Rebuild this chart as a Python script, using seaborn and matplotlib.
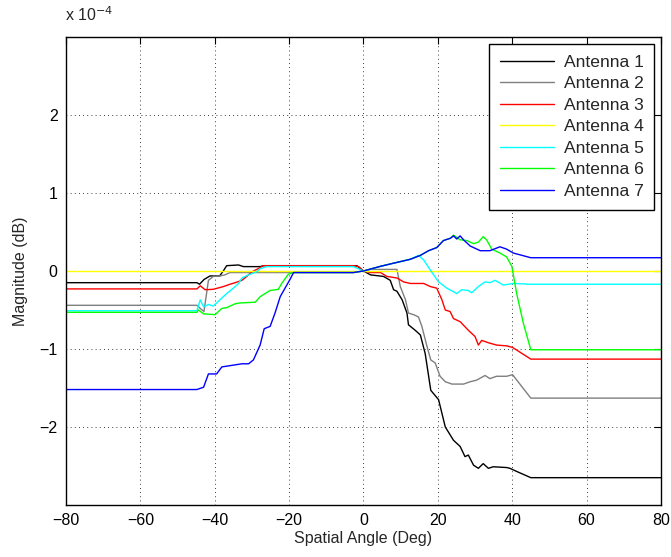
import matplotlib
matplotlib.use("Agg")
import matplotlib.pyplot as plt
import numpy as np
import pandas as pd
import seaborn as sns

# Magnitude response of each antenna versus spatial angle (values in units of 1e-4 dB)
ant1_angle = [-80, -44.8, -44.1, -42.9, -41.3, -38.7, -37.7, -36.8, -33.6, -32.3, -27.8, -26.9, -1.8, 0,
              1.9, 5.4, 7.2, 8.1, 9, 10.4, 11.7, 12.1, 13.9, 15.3, 16.6, 18.1, 20.2, 22, 24.2, 26, 27.3,
              28.2, 29.6, 30.9, 32.2, 33.6, 34.9, 38.5, 39.4, 41.2, 45, 80]
ant1_mag = [-0.15, -0.15, -0.17, -0.11, -0.064, -0.064, 0.0, 0.068, 0.077, 0.056, 0.056, 0.068, 0.068, 0.0,
            -0.05, -0.07, -0.12, -0.24, -0.26, -0.37, -0.54, -0.69, -0.76, -0.82, -1.06, -1.53, -1.65, -2.0,
            -2.17, -2.25, -2.38, -2.36, -2.49, -2.53, -2.47, -2.53, -2.51, -2.52, -2.53, -2.57, -2.65, -2.65]

ant2_angle = [-80, -44.8, -43.9, -42.9, -41.7, -40.4, -38.6, -37.3, -35.9, -2.7, 0, 1.9, 9, 9.9, 11.3,
              12.1, 13.5, 14.8, 15.7, 17.1, 18.1, 19.3, 20.6, 22, 23.8, 26.9, 28.7, 30.4, 32.7, 34, 35.8,
              38.5, 40.1, 45, 80]
ant2_mag = [-0.44, -0.44, -0.48, -0.52, -0.12, -0.07, -0.064, -0.05, -0.02, -0.02, 0.0, 0.02, 0.02, -0.2,
            -0.37, -0.54, -0.56, -0.59, -0.71, -0.97, -1.14, -1.18, -1.35, -1.42, -1.45, -1.45, -1.42, -1.40,
            -1.34, -1.38, -1.35, -1.35, -1.33, -1.63, -1.63]

ant3_angle = [-80, -44.8, -43.9, -42.6, -40.4, -37.7, -35.9, -34.5, -32.7, -31.4, -30, -28.7, -26.9, -2.7,
              -1.3, 0, 1.9, 4.6, 6.3, 9, 10.8, 12.6, 16.2, 18, 19.7, 21.1, 22, 23.3, 24.2, 26, 28.2, 30,
              30.9, 31.8, 33.6, 35.8, 38.5, 40.1, 45, 80]
ant3_mag = [-0.23, -0.23, -0.19, -0.24, -0.235, -0.2, -0.17, -0.15, -0.12, -0.07, -0.01, 0.02, 0.068, 0.068,
            0.056, 0.0, -0.02, -0.02, -0.07, -0.09, -0.14, -0.16, -0.16, -0.2, -0.22, -0.37, -0.5, -0.52,
            -0.61, -0.65, -0.76, -0.84, -0.95, -0.89, -0.92, -0.95, -0.96, -0.98, -1.13, -1.13]

ant4_angle = [-80, 80]
ant4_mag = [0.0, 0.0]

ant5_angle = [-80, -44.8, -43.9, -43, -41.7, -40.4, -38.6, -36.8, -35, -33.6, -32.7, -31.4, -28.7, -27.8,
              -26, -2.7, 0, 4.6, 8.1, 12.6, 14.8, 16.2, 18, 20.2, 22.4, 25.1, 26.4, 28.2, 29.1, 30.9, 32.7,
              34, 35.4, 37.6, 40.3, 45, 80]
ant5_mag = [-0.51, -0.51, -0.37, -0.46, -0.43, -0.45, -0.37, -0.29, -0.22, -0.16, -0.09, -0.06, -0.01, 0.03,
            0.056, 0.056, 0.0, 0.06, 0.1, 0.15, 0.2, 0.14, 0.01, -0.14, -0.22, -0.29, -0.24, -0.25, -0.28,
            -0.2, -0.14, -0.15, -0.12, -0.18, -0.16, -0.17, -0.17]

ant6_angle = [-80, -44.8, -44.4, -43, -39.9, -38.1, -36.8, -34.5, -33.2, -29.1, -27.8, -26.5, -25.1, -22.9,
              -22, -20.2, -18.8, -2.7, 0, 4.6, 8.1, 12.6, 15.3, 17.5, 19.7, 21.5, 23.4, 24.2, 26, 27.8,
              29.6, 30.9, 32.2, 33.1, 34.5, 36.7, 38.5, 39.9, 41.2, 43, 45, 80]
ant6_mag = [-0.53, -0.53, -0.50, -0.55, -0.56, -0.48, -0.47, -0.42, -0.41, -0.40, -0.33, -0.29, -0.25, -0.235,
            -0.16, -0.04, -0.02, -0.02, 0.0, 0.06, 0.1, 0.15, 0.2, 0.26, 0.30, 0.39, 0.42, 0.46, 0.40, 0.39,
            0.35, 0.37, 0.44, 0.40, 0.28, 0.23, 0.18, 0.06, -0.29, -0.67, -1.01, -1.01]

ant7_angle = [-80, -44.8, -43, -41.7, -39.5, -38.1, -35.4, -32.7, -30.9, -29.6, -27.8, -26.7, -25.1, -23.8,
              -22.4, -21.1, -19.9, -18.8, -2.7, 0, 4.6, 8.1, 12.6, 15.3, 17.5, 19.7, 21.5, 23.4, 24.2, 25.1,
              26, 26.9, 28.7, 31.4, 34, 36.7, 38.5, 40.3, 45, 80]
ant7_mag = [-1.52, -1.52, -1.49, -1.32, -1.32, -1.23, -1.21, -1.19, -1.19, -1.14, -0.95, -0.74, -0.71, -0.54,
            -0.33, -0.22, -0.12, -0.02, -0.02, 0.0, 0.06, 0.1, 0.15, 0.2, 0.26, 0.30, 0.39, 0.42, 0.45, 0.41,
            0.45, 0.40, 0.32, 0.26, 0.26, 0.31, 0.28, 0.23, 0.17, 0.17]

antenna_names = ["Antenna 1", "Antenna 2", "Antenna 3", "Antenna 4", "Antenna 5", "Antenna 6", "Antenna 7"]
antenna_colors = ["#000000", "#7f7f7f", "#ff0000", "#ffff00", "#00ffff", "#00ff00", "#0000ff"]

x_ticks = [-80, -60, -40, -20, 0, 20, 40, 60, 80]
y_ticks = [-2, -1, 0, 1, 2]

angles = [ant1_angle, ant2_angle, ant3_angle, ant4_angle, ant5_angle, ant6_angle, ant7_angle]
mags = [ant1_mag, ant2_mag, ant3_mag, ant4_mag, ant5_mag, ant6_mag, ant7_mag]

frames = []
for name, a, m in zip(antenna_names, angles, mags):
    frames.append(pd.DataFrame({"angle": a, "mag": m, "antenna": name}))
df = pd.concat(frames, ignore_index=True)

sns.set_theme(style="white")
plt.rcParams["font.family"] = ["Liberation Sans", "DejaVu Sans"]
plt.rcParams["axes.unicode_minus"] = True

fig = plt.figure(figsize=(6.71, 5.57), dpi=100)
ax = fig.add_axes([0.0984, 0.0934, 0.8866, 0.8402])

sns.lineplot(data=df, x="angle", y="mag", hue="antenna", hue_order=antenna_names,
             palette=dict(zip(antenna_names, antenna_colors)), estimator=None, sort=False,
             linewidth=1.0, ax=ax)

ax.set_xlim(-80, 80)
ax.set_ylim(-3, 3)
ax.set_xticks(x_ticks)
ax.set_yticks(y_ticks)
ax.tick_params(direction="in", length=5, width=0.8, top=True, right=True,
               labelsize=11.5, colors="black", pad=6)
ax.grid(True, color="black", linestyle=(0, (1, 4)), linewidth=0.6)
for s in ax.spines.values():
    s.set_color("black")
    s.set_linewidth(1.0)

ax.set_xlabel("Spatial Angle (Deg)", fontsize=11.5, labelpad=2)
ax.set_ylabel("Magnitude (dB)", fontsize=11.5, labelpad=8)
fig.text(0.097, 0.973, r"x 10$^{-4}$", fontsize=11.5, ha="left", va="center")

leg = ax.legend(loc="upper right", fontsize=12.6, frameon=True, fancybox=False,
                edgecolor="black", framealpha=1, handlelength=3.1, borderpad=0.6,
                labelspacing=0.36, handletextpad=0.55, borderaxespad=0.4)
leg.get_frame().set_linewidth(1.0)
leg.set_title(None)

fig.savefig("out.png", dpi=100)
